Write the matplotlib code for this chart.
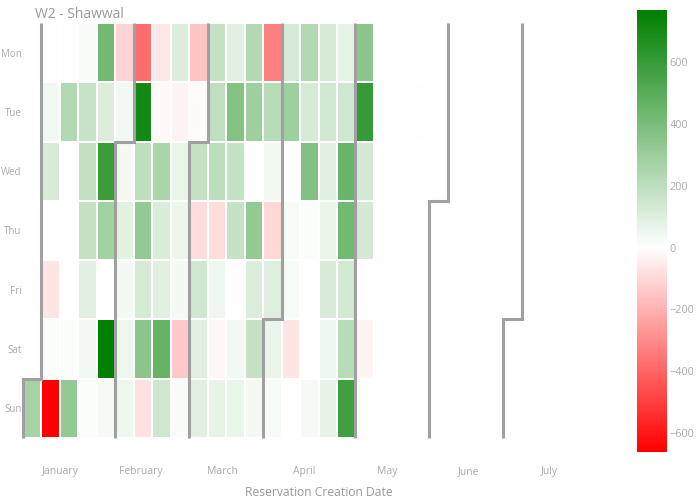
import datetime as dt
import numpy as np
import matplotlib
matplotlib.use("Agg")
import matplotlib.pyplot as plt
from matplotlib.colors import LinearSegmentedColormap, Normalize

plt.rcParams['font.family'] = ['Open Sans', 'DejaVu Sans']

title = "W2 - Shawwal"
x_title = "Reservation Creation Date"
weekdays = ["Mon", "Tue", "Wed", "Thu", "Fri", "Sat", "Sun"]
months = ["January", "February", "March", "April", "May", "June", "July"]
month_tick_pos = [1.5, 5.9, 10.3, 14.75, 19.2, 23.6, 28.0]
year = 2017
n_weeks = 32
N = None

# values per weekday row, one entry per calendar week column (col 0 = week containing Jan 1)
mon = [N, 5, 5, 20, 420, -110, -380, -60, 105, -150, 175, 90, 230, -330, 125, 230, 125, 75, 345, N, 4]
tue = [N, 40, 230, 170, 105, 40, 708, -17, -30, -12, 193, 367, 292, 220, 290, 125, 140, 145, 605, N, N, 4]
wed = [N, 115, 5, 185, 593, 36, 195, 250, 60, 175, 200, 175, 3, 33, 2, 375, 90, 450, 130]
thu = [N, 1, 1, 175, 277, 85, 325, 110, 55, -88, -90, 175, 325, -100, 25, 12, 60, 425, 130]
fri = [N, -65, 1, 88, 2, 35, 125, 88, 35, 145, 52, 1, 105, 95, 25, 1, 120, 135, 1]
sat = [N, 10, 10, 42, 768, 52, 343, 458, -137, 92, -22, 42, 175, 62, -65, 1, 50, 215, -25]
sun = [268, -661, 325, 10, 30, 52, -75, 145, 20, 92, 75, 60, 36, 25, 1, 30, 75, 575]

rows = [mon, tue, wed, thu, fri, sat, sun]
Z = np.full((7, n_weeks), np.nan)
for r, vals in enumerate(rows):
    for c, v in enumerate(vals):
        if v is not None:
            Z[r, c] = v

zmin, zmax = np.nanmin(Z), np.nanmax(Z)
f0 = -zmin / (zmax - zmin)
cmap = LinearSegmentedColormap.from_list("rg", [(0, "#ff0000"), (f0, "#ffffff"), (1, "#008000")])
norm = Normalize(vmin=zmin, vmax=zmax)

fig = plt.figure(figsize=(7, 5), dpi=100)
ax = fig.add_axes([23 / 700, 1 - 438 / 500, (614 - 23) / 700, (438 - 23) / 500])
Zm = np.ma.masked_invalid(Z)
xe = np.arange(n_weeks + 1) - 0.5
ye = np.arange(8) - 0.5
mesh = ax.pcolormesh(xe, ye, Zm, cmap=cmap, norm=norm, edgecolors="white", linewidth=1.3)
ax.set_xlim(-0.5, n_weeks - 0.5)
ax.set_ylim(6.5, -0.5)

# month boundary lines
jan1 = dt.date(year, 1, 1)
off = jan1.weekday()
for m in range(1, 8):
    d = dt.date(year, m, 1)
    i = (d - jan1).days + off
    c, r = divmod(i, 7)
    if r == 0:
        xs = [c - 0.5, c - 0.5]
        ys = [-0.5, 6.5]
    else:
        xs = [c + 0.5, c + 0.5, c - 0.5, c - 0.5]
        ys = [-0.5, r - 0.5, r - 0.5, 6.5]
    ax.plot(xs, ys, color="#a0a0a0", lw=2.2, solid_joinstyle="miter",
            solid_capstyle="butt", zorder=5, clip_on=False)

for s in ax.spines.values():
    s.set_visible(False)
ax.set_yticks(range(7))
ax.set_yticklabels(weekdays, fontsize=7, color="#aaaaaa")
ax.set_xticks(month_tick_pos)
ax.set_xticklabels(months, fontsize=7.5, color="#aaaaaa")
ax.tick_params(axis="both", length=0)
ax.tick_params(axis="y", pad=1)
ax.tick_params(axis="x", pad=20)
ax.set_xlabel(x_title, fontsize=8.7, color="#999999", labelpad=7)
fig.text(35 / 700, 1 - 15 / 500, title, fontsize=10, color="#999999", ha="left", va="center")

cax = fig.add_axes([637 / 700, 1 - 452 / 500, 30 / 700, 442 / 500])
cb = fig.colorbar(mesh, cax=cax)
cb.outline.set_visible(False)
cb.set_ticks([-600, -400, -200, 0, 200, 400, 600])
cax.tick_params(length=0, labelsize=7.8, labelcolor="#aaaaaa", pad=2)

fig.savefig("out.png", dpi=100)
